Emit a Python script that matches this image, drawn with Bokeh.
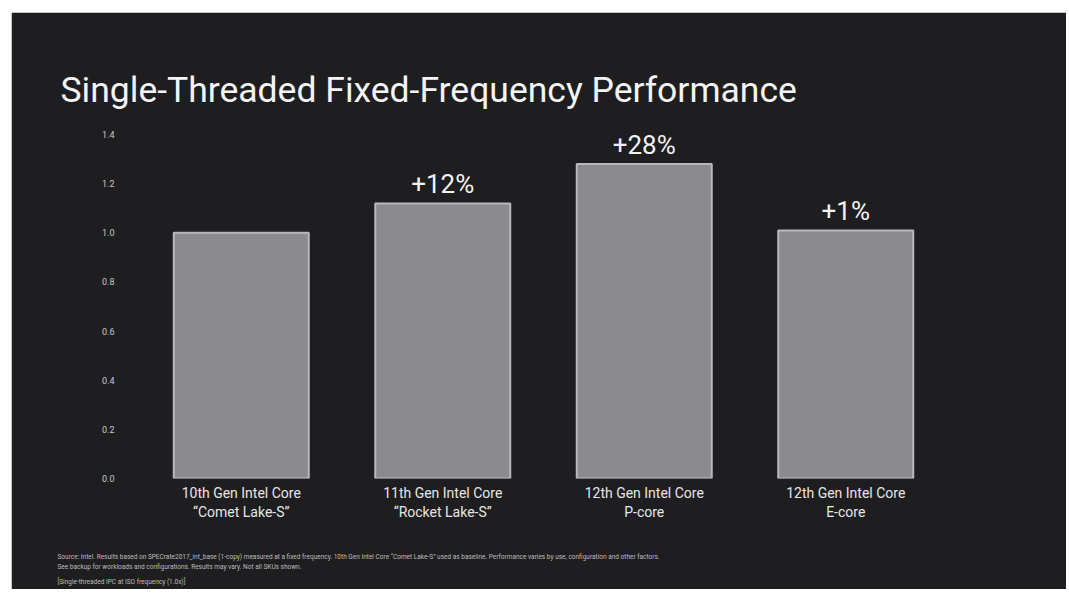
from bokeh.plotting import figure
from bokeh.models import (ColumnDataSource, FactorRange, Range1d, FixedTicker,
                          Title, NumeralTickFormatter)
from bokeh.core.properties import value
from bokeh.embed import file_html
from bokeh.resources import INLINE

# ---- data ----
line1_labels = ["10th Gen Intel Core", "11th Gen Intel Core",
                "12th Gen Intel Core", "12th Gen Intel Core"]
line2_labels = ["\u201cComet Lake-S\u201d", "\u201cRocket Lake-S\u201d", "P-core", "E-core"]
categories = [a + "\n" + b for a, b in zip(line1_labels, line2_labels)]
perf_values = [1.00, 1.12, 1.28, 1.01]
pct_labels = ["", "+12%", "+28%", "+1%"]
y_ticks = [0.0, 0.2, 0.4, 0.6, 0.8, 1.0, 1.2, 1.4]

title_text = "Single-Threaded Fixed-Frequency Performance"
footnotes = [
    "Source: Intel. Results based on SPECrate2017_int_base (1-copy) measured at a fixed frequency. 10th Gen Intel Core \u201cComet Lake-S\u201d used as baseline. Performance varies by use, configuration and other factors.",
    "See backup for workloads and configurations. Results may vary. Not all SKUs shown.",
    "[Single-threaded IPC at ISO frequency (1.0x)]",
]
footnote_gaps = [0, 1, 8]

BG = "#1e1e20"
FONT = "Roboto"

p = figure(frame_width=806, frame_height=366, x_range=FactorRange(factors=categories),
           y_range=Range1d(0, 1.49), output_backend="svg", toolbar_location=None,
           min_border_left=129, min_border_right=120, min_border_top=100,
           min_border_bottom=0)
p.margin = (12, 0, 0, 11)
p.background_fill_color = BG
p.border_fill_color = BG
p.outline_line_color = BG
p.outline_line_width = 3
p.xgrid.visible = False
p.ygrid.visible = False

src = ColumnDataSource(dict(cat=categories, val=perf_values, pct=pct_labels))
p.vbar(x="cat", top="val", width=0.67, source=src, fill_color="#8b8b8e",
       line_color="#b9b9bb", line_width=2)
p.text(x="cat", y="val", text="pct", source=src, text_align="center",
       text_baseline="middle", y_offset=-19, text_color="#f2f2f2",
       text_font_size="26px", text_font=value(FONT))

# y axis
ya = p.yaxis[0]
ya.ticker = FixedTicker(ticks=y_ticks)
ya.formatter = NumeralTickFormatter(format="0.0")
ya.axis_line_color = None
ya.major_tick_line_color = None
ya.minor_tick_line_color = None
ya.major_label_standoff = 20
ya.major_label_text_color = "#c8c8c8"
ya.major_label_text_font_size = "9px"
ya.major_label_text_font = FONT

# x axis (two-line category labels)
xa = p.xaxis[0]
xa.axis_line_color = None
xa.major_tick_line_color = None
xa.minor_tick_line_color = None
xa.major_label_standoff = 0
xa.major_label_text_color = "#e6e6e6"
xa.major_label_text_font_size = "14px"
xa.major_label_text_line_height = 1.23
xa.major_label_text_font = FONT

# title
p.title.text = title_text
p.title.align = "left"
p.title.offset = -80
p.title.text_color = "#f4f4f4"
p.title.text_font_size = "35.5px"
p.title.text_font = FONT
p.title.text_font_style = "normal"
p.title.standoff = 4

# spacer between category labels and footnotes
p.add_layout(Title(text=" ", standoff=17, text_font_size="6.5px",
                   text_font=FONT, text_color=BG), "below")

# footnotes
for txt, so in zip(footnotes, footnote_gaps):
    p.add_layout(Title(text=txt, align="left", offset=-83, standoff=so,
                       text_color="#bdbdbd", text_font_size="6.5px",
                       text_font=FONT, text_font_style="normal"), "below")

open("out.html", "w").write(file_html(p, INLINE))
